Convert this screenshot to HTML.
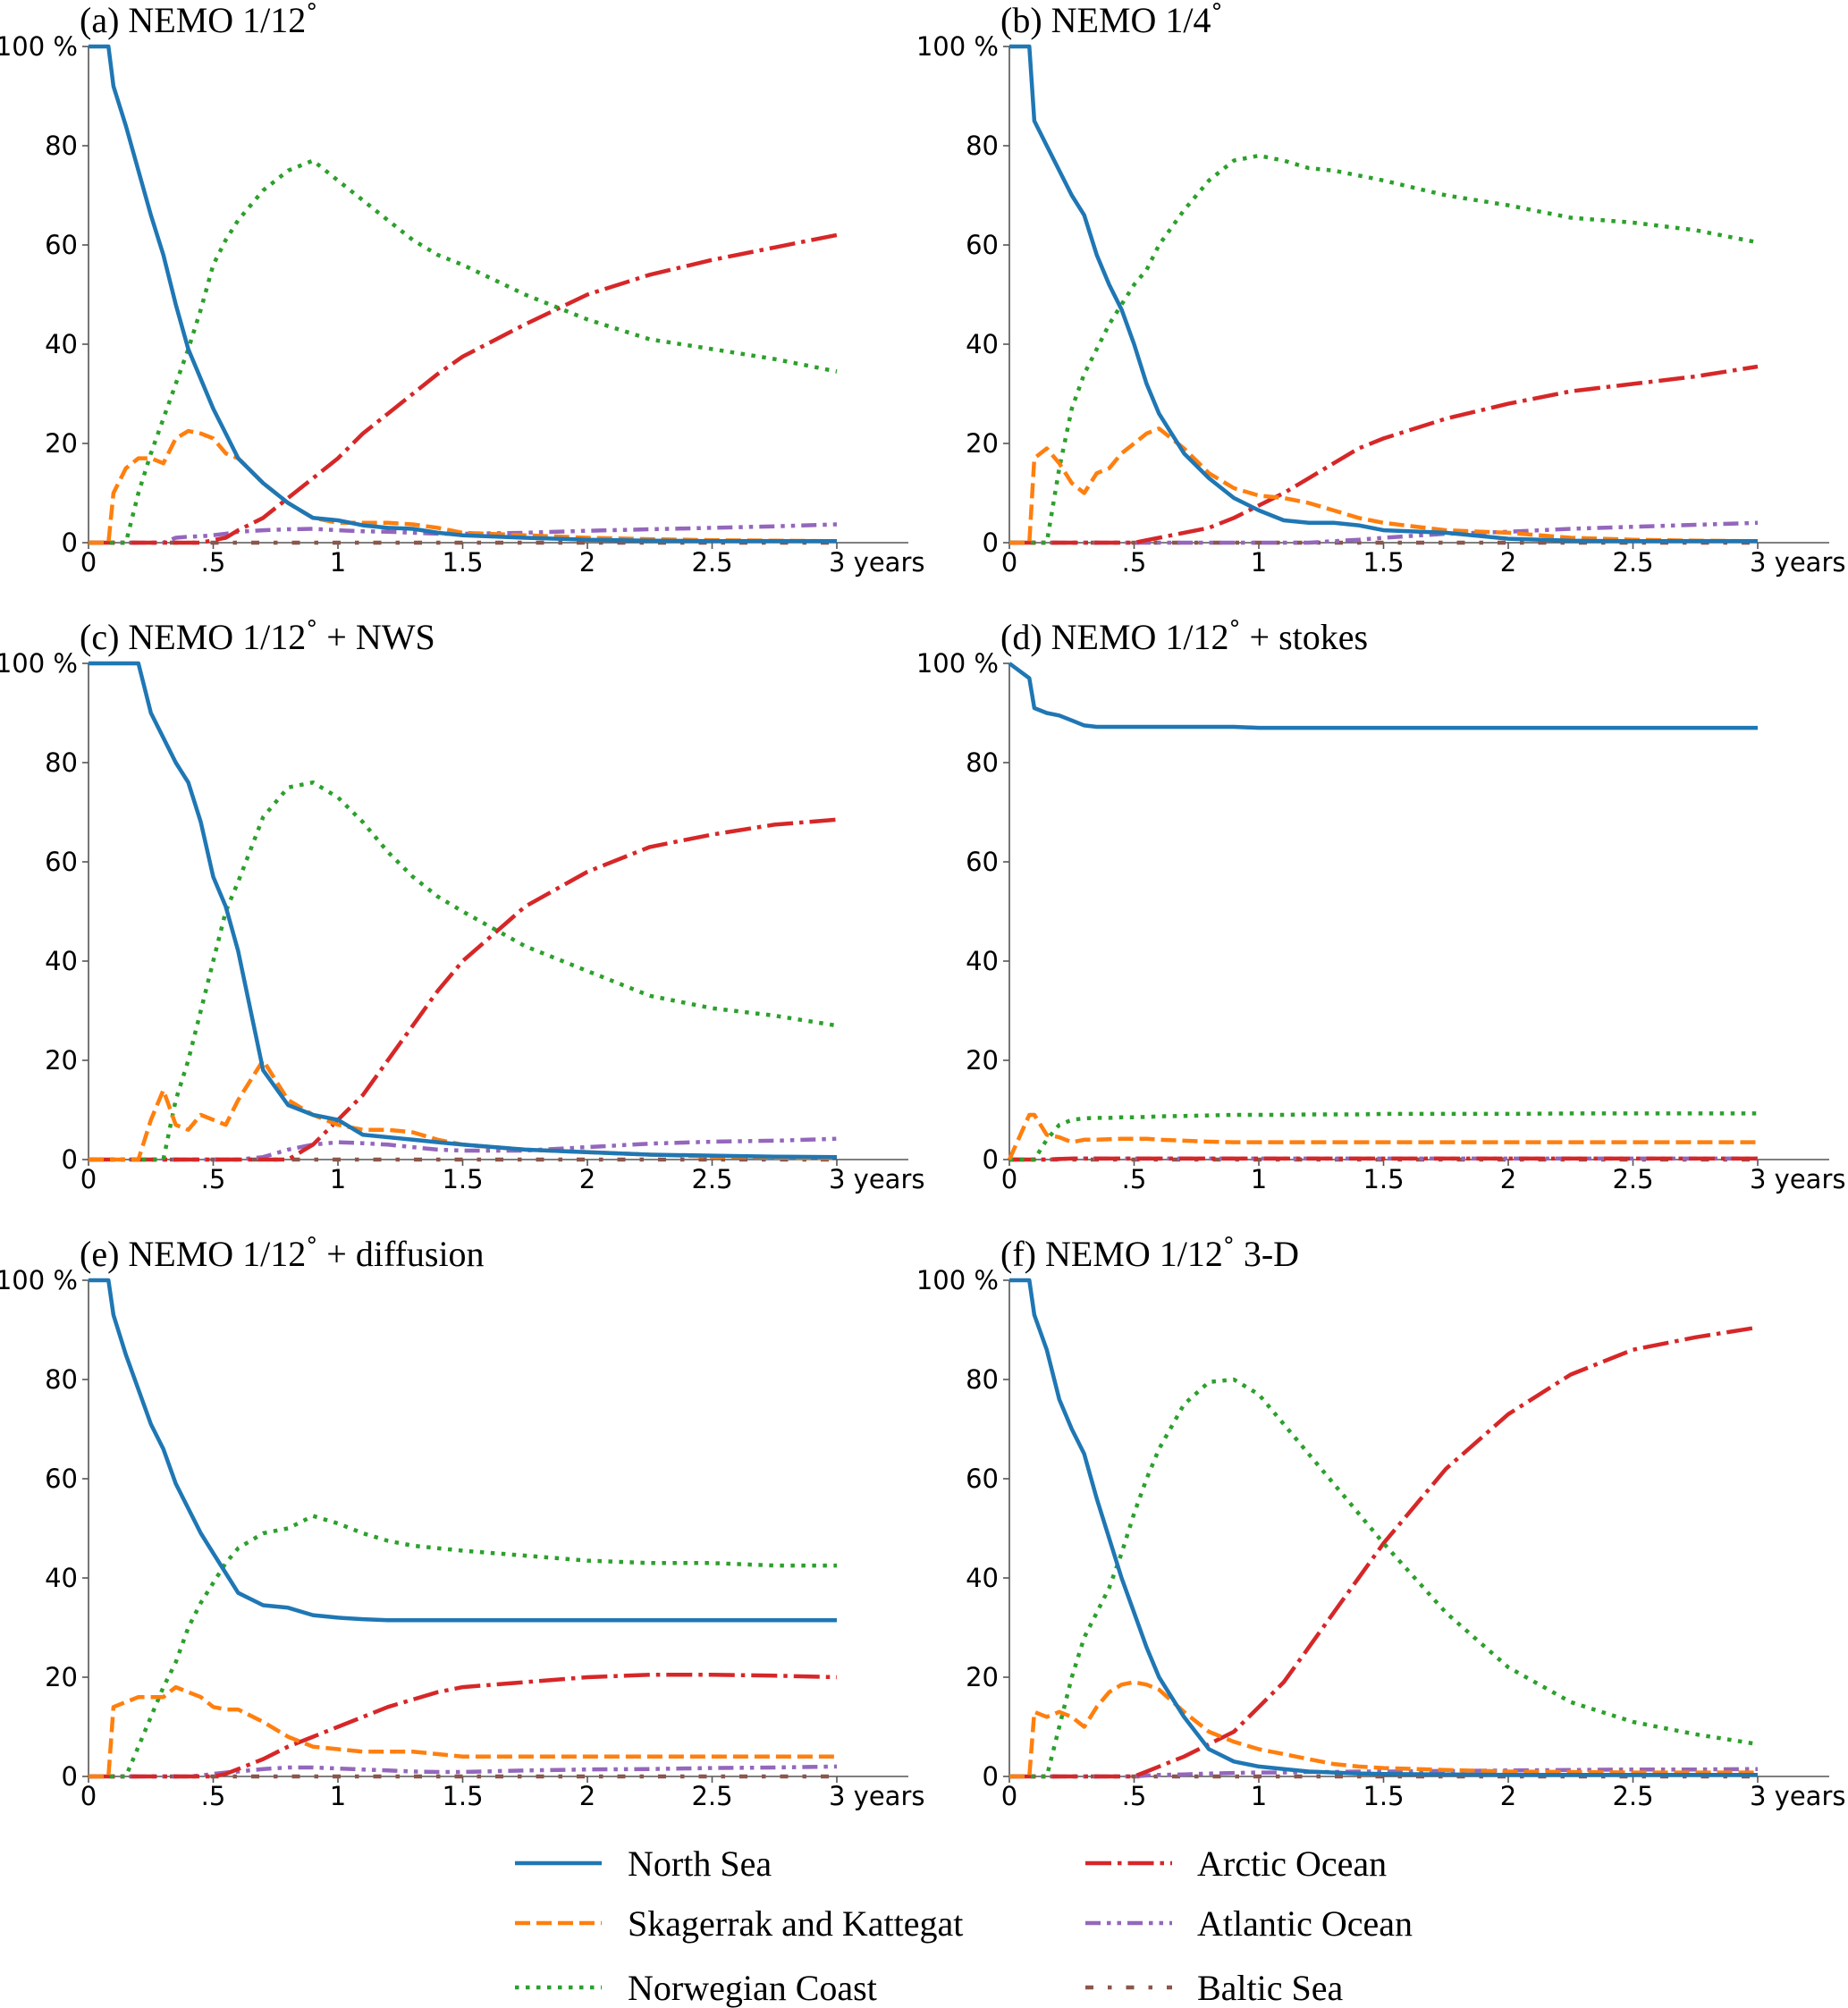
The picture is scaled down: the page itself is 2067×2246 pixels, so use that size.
<!DOCTYPE html>
<html><head><meta charset="utf-8">
<style>
html,body{margin:0;padding:0;background:#fff;}
svg{display:block;}
.tick{font-family:"DejaVu Sans","Liberation Sans",sans-serif;font-size:29px;fill:#000;}
.title{font-family:"Liberation Serif",serif;font-size:40px;fill:#000;}
.leg{font-family:"Liberation Serif",serif;font-size:40px;fill:#000;}
</style></head>
<body>
<svg id="chart" width="2067" height="2246" viewBox="0 0 2067 2246" xmlns="http://www.w3.org/2000/svg"></svg>
<script>
const times = [0,0.08,0.1,0.15,0.2,0.25,0.3,0.35,0.4,0.45,0.5,0.55,0.6,0.7,0.8,0.9,1,1.1,1.2,1.3,1.4,1.5,1.75,2,2.25,2.5,2.75,3];
const xTicks = [0,0.5,1,1.5,2,2.5,3];
const xTickLabels = ["0",".5","1","1.5","2","2.5","3  years"];
const yTicks = [0,20,40,60,80,100];
const yTickLabels = ["0","20","40","60","80","100 %"];
const seriesNames = ["North Sea","Skagerrak and Kattegat","Norwegian Coast","Arctic Ocean","Atlantic Ocean","Baltic Sea"];
const zeros = times.map(()=>0);

const aNorth = [100,100,92,84,75,66,58,48,39,33,27,22,17,12,8,5,4.5,3.5,3,2.8,2,1.5,1,0.6,0.4,0.3,0.3,0.3];
const aSkag  = [0,0,10,15,17,17,16,21,22.5,22,21,18,17,12,8,5,4,4,4,3.7,3,2,1.5,1,0.7,0.5,0.4,0.3];
const aNorw  = [0,0,0,0,10,18,25,32,39,47,56,61,65,71,75,77,73,69,65,61,58,56,50,45,41,39,37,34.5];
const aArct  = [0,0,0,0,0,0,0,0,0,0,0.5,1,2.5,5,9,13,17,22,26,30,34,37.5,44,50,54,57,59.5,62];
const aAtl   = [0,0,0,0,0,0,0,1,1.2,1.3,1.5,1.8,2.2,2.5,2.7,2.8,2.5,2.3,2.2,2,1.8,1.8,2,2.4,2.7,3,3.3,3.7];

const bNorth = [100,100,85,80,75,70,66,58,52,47,40,32,26,18,13,9,6.5,4.5,4,4,3.5,2.5,2,0.8,0.4,0.3,0.3,0.3];
const bSkag  = [0,0,17,19,16,12,10,14,15,18,20,22,23,19,14,11,9.5,9,8,6.5,5,4,2.5,2,1,0.6,0.4,0.3];
const bNorw  = [0,0,0,0,15,27,34,39,44,48,52,55,60,67,73,77,78,77,75.5,75,74,73,70,68,65.5,64.5,63,60.5];
const bArct  = [0,0,0,0,0,0,0,0,0,0,0,0.5,1,2,3,5,7.5,10,13,16,19,21,25,28,30.5,32,33.5,35.5];
const bAtl   = [0,0,0,0,0,0,0,0,0,0,0,0,0,0,0,0,0,0,0,0.3,0.6,1,1.8,2.2,2.8,3.2,3.6,4];

const cNorth = [100,100,100,100,100,90,85,80,76,68,57,51,42,18,11,9,8,5,4.5,4,3.5,3,2,1.5,1,0.8,0.6,0.5];
const cSkag  = [0,0,0,0,0,8,14,7,6,9,8,7,12,20,12,9,7,6,6,5.5,4,3,2,1.5,1,0.6,0.4,0.3];
const cNorw  = [0,0,0,0,0,0,0,12,20,30,40,50,56,69,75,76,73,68,62,57,53,50,43,38,33,30.5,29,27];
const cArct  = [0,0,0,0,0,0,0,0,0,0,0,0,0,0,0,3,8,13,20,27,34,40,51,58,63,65.5,67.5,68.5];
const cAtl   = [0,0,0,0,0,0,0,0,0,0,0,0,0,0.5,2,3,3.5,3.3,3,2.5,2,1.8,1.8,2.5,3.2,3.6,3.8,4.2];

const dNorth = [100,97,91,90,89.5,88.5,87.5,87.2,87.2,87.2,87.2,87.2,87.2,87.2,87.2,87.2,87,87,87,87,87,87,87,87,87,87,87,87];
const dSkag  = [0,9,9,5,4.5,3.5,4,4,4.1,4.2,4.2,4.2,4,3.8,3.6,3.5,3.5,3.5,3.5,3.5,3.5,3.5,3.5,3.5,3.5,3.5,3.5,3.5];
const dNorw  = [0,0,0,4,7,8,8.3,8.4,8.4,8.5,8.5,8.6,8.7,8.8,8.9,9,9,9,9.1,9.1,9.1,9.2,9.2,9.2,9.3,9.3,9.3,9.3];
const dArct  = [0,0,0,0,0.1,0.2,0.2,0.2,0.2,0.2,0.2,0.2,0.2,0.2,0.2,0.2,0.2,0.2,0.2,0.2,0.2,0.2,0.2,0.2,0.2,0.2,0.2,0.2];
const dAtl   = [0,0,0,0,0.1,0.2,0.2,0.2,0.2,0.2,0.2,0.2,0.2,0.2,0.2,0.2,0.2,0.2,0.2,0.2,0.2,0.2,0.2,0.2,0.2,0.2,0.2,0.2];

const eNorth = [100,100,93,85,78,71,66,59,54,49,45,41,37,34.5,34,32.5,32,31.7,31.5,31.5,31.5,31.5,31.5,31.5,31.5,31.5,31.5,31.5];
const eSkag  = [0,0,14,15,16,16,16,18,17,16,14,13.5,13.5,11,8,6,5.5,5,5,5,4.5,4,4,4,4,4,4,4];
const eNorw  = [0,0,0,0,6,12,18,23,30,35,39,43,46,49,50,52.5,51,49,47.5,46.5,46,45.5,44.5,43.5,43,43,42.5,42.5];
const eArct  = [0,0,0,0,0,0,0,0,0,0,0,0.5,1.5,3.5,6,8,10,12,14,15.5,17,18,19,20,20.5,20.5,20.3,20];
const eAtl   = [0,0,0,0,0,0,0,0,0,0.2,0.5,0.8,1,1.5,1.8,1.8,1.6,1.4,1.2,1,0.9,0.9,1.2,1.4,1.5,1.7,1.8,2];

const fNorth = [100,100,93,86,76,70,65,56,48,40,33,26,20,12,5.5,3,2,1.5,1,0.8,0.6,0.5,0.4,0.3,0.3,0.3,0.3,0.3];
const fSkag  = [0,0,13,12,13,12,10,14,17,18.5,19,18.5,17.5,13,9,7,5.5,4.5,3.5,2.5,2,1.7,1.3,1,0.9,0.8,0.8,0.8];
const fNorw  = [0,0,0,0,10,20,28,33,38,45,53,60,66,75,79.5,80,77,71,65,59,53,47,33,22,15,11,8.5,6.5];
const fArct  = [0,0,0,0,0,0,0,0,0,0,0,1,2,4,6.5,9,14,19,26,33,40,47,62,73,81,86,88.5,90.5];
const fAtl   = [0,0,0,0,0,0,0,0,0,0,0,0.2,0.3,0.4,0.6,0.7,0.8,0.8,0.9,0.9,1,1,1.1,1.2,1.3,1.4,1.4,1.5];

const panels = [
  {id:"a", title:"(a) NEMO 1/12", suf:"", data:[aNorth,aSkag,aNorw,aArct,aAtl,zeros]},
  {id:"b", title:"(b) NEMO 1/4", suf:"", data:[bNorth,bSkag,bNorw,bArct,bAtl,zeros]},
  {id:"c", title:"(c) NEMO 1/12", suf:" + NWS", data:[cNorth,cSkag,cNorw,cArct,cAtl,zeros]},
  {id:"d", title:"(d) NEMO 1/12", suf:" + stokes", data:[dNorth,dSkag,dNorw,dArct,dAtl,zeros]},
  {id:"e", title:"(e) NEMO 1/12", suf:" + diffusion", data:[eNorth,eSkag,eNorw,eArct,eAtl,zeros]},
  {id:"f", title:"(f) NEMO 1/12", suf:" 3-D", data:[fNorth,fSkag,fNorw,fArct,fAtl,zeros]}
];
const colors = ["#1f77b4","#ff7f0e","#2ca02c","#d62728","#9467bd","#8c564b"];
const dashes = ["","17 7","4.5 7.5","29 7 4.5 7","17 7 4.5 7 4.5 7","9 16 4.5 16"];
const order = [5,4,3,2,1,0];

const NS="http://www.w3.org/2000/svg";
const svg=document.getElementById("chart");
function mk(tag,attrs,parent){const e=document.createElementNS(NS,tag);for(const k in attrs)e.setAttribute(k,attrs[k]);(parent||svg).appendChild(e);return e;}

const colX=[99,1129], rowY=[607,1297,1987], W=279*3, H=555;
panels.forEach((p,i)=>{
  const x0=colX[i%2], y0=rowY[Math.floor(i/2)];
  const xs=t=>x0+t/3*W, ys=v=>y0-v/100*H;
  const g=mk("g",{});
  
  
  const t=mk("text",{x:x0-10,y:y0-H-16,class:"title"},g);
  
  
  t.appendChild(document.createTextNode(p.title));
  const ts=mk("tspan",{dy:-14,"font-size":"26","font-family":"DejaVu Sans, sans-serif"},t); ts.textContent="\u00B0";
  const ts2=mk("tspan",{dy:14},t); ts2.textContent=p.suf;
  const ax=mk("path",{d:`M${x0} ${y0-H} L${x0} ${y0} L${xs(3)+80} ${y0}`,stroke:"#555",fill:"none","stroke-width":"1.6"},g);
  
  
  yTicks.forEach((v,k)=>{
    mk("line",{x1:x0-7,x2:x0,y1:ys(v),y2:ys(v),stroke:"#555","stroke-width":"1.6"},g);
    const l=mk("text",{x:x0-12,y:ys(v)+10,"text-anchor":"end",class:"tick"},g);
    
    
    l.textContent=yTickLabels[k];
  });
  xTicks.forEach((v,k)=>{
    mk("line",{x1:xs(v),x2:xs(v),y1:y0,y2:y0+7,stroke:"#555","stroke-width":"1.6"},g);
    const l=mk("text",{x:xs(v)-(k==6?9:0),y:y0+32,"text-anchor":k==6?"start":"middle",class:"tick","xml:space":"preserve"},g);
    
    
    l.textContent=xTickLabels[k];
  });
  order.forEach(s=>{
    const vals=p.data[s];
    const d=vals.map((v,k)=>(k?"L":"M")+xs(times[k]).toFixed(1)+" "+ys(v).toFixed(1)).join(" ");
    const path=mk("path",{d:d,fill:"none",stroke:colors[s],"stroke-width":"4.5","stroke-dasharray":dashes[s],"stroke-linejoin":"round"},g);
    
    
  });
});
const legX=[[576,702],[1214,1339]], legY=[2084,2151,2223];
seriesNames.forEach((n,s)=>{
  const c=Math.floor(s/3), r=s%3;
  const g=mk("g",{});
  
  
  mk("line",{x1:legX[c][0],x2:legX[c][0]+97,y1:legY[r],y2:legY[r],stroke:colors[s],"stroke-width":"4.5","stroke-dasharray":dashes[s]},g);
  const t=mk("text",{x:legX[c][1],y:legY[r]+14,class:"leg"},g);
  t.textContent=n;
});
</script>
</body></html>
